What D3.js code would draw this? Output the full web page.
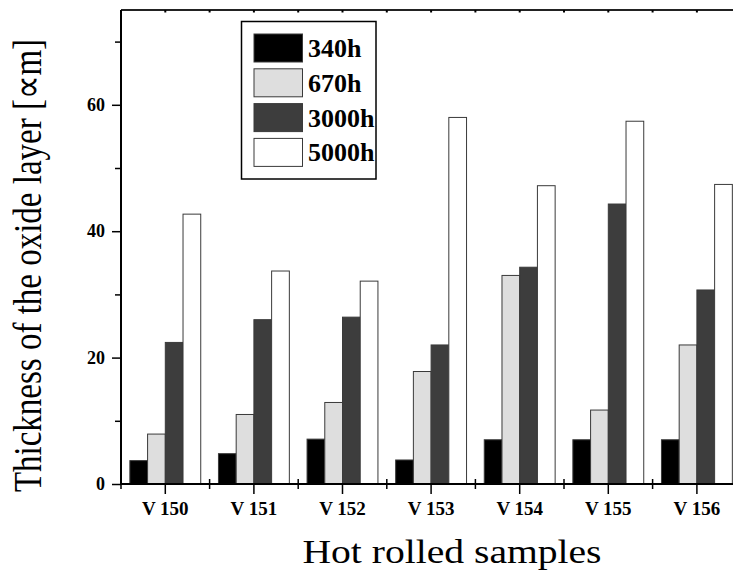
<!DOCTYPE html>
<html>
<head>
<meta charset="utf-8">
<script src="https://cdn.jsdelivr.net/npm/d3@7"></script>
<style>
  html, body { margin: 0; padding: 0; background: #fff; }
  svg { display: block; }
  text { font-family: "Liberation Serif", "Times New Roman", serif; fill: #000; }
</style>
</head>
<body>
<svg id="chart" width="733" height="570"></svg>
<script>
// Oxide layer thickness per hot rolled sample after each exposure time
const samples = ["V 150", "V 151", "V 152", "V 153", "V 154", "V 155", "V 156"];
const seriesNames = ["340h", "670h", "3000h", "5000h"];
const h340  = [3.7, 4.8, 7.1, 3.8, 7.0, 7.0, 7.0];
const h670  = [7.9, 11.0, 12.9, 17.8, 33.0, 11.7, 22.0];
const h3000 = [22.4, 26.0, 26.4, 22.0, 34.3, 44.3, 30.7];
const h5000 = [42.7, 33.7, 32.1, 58.0, 47.2, 57.4, 47.4];
const yMajorTicks = [0, 20, 40, 60];
const yMinorTicks = [10, 30, 50, 70];

const seriesValues = [h340, h670, h3000, h5000];
const fills = ["#000000", "#dedede", "#3d3d3d", "#ffffff"];

const svg = d3.select("#chart");
const plotLeft = 121, plotTop = 10, plotBottom = 484;
const step = 88.6;
const plotRight = plotLeft + step * samples.length;

const x = d3.scaleBand().domain(samples).range([plotLeft, plotRight]).padding(0);
const xi = d3.scaleBand().domain(seriesNames)
  .range([x.bandwidth() * 0.1, x.bandwidth() * 0.9]).padding(0);
const y = d3.scaleLinear().domain([0, 75]).range([plotBottom, plotTop]);

// bars
const rows = samples.map((s, i) => ({
  sample: s,
  values: seriesNames.map((n, k) => ({ name: n, k, v: seriesValues[k][i] }))
}));

const groups = svg.append("g").selectAll("g").data(rows).join("g")
  .attr("transform", d => `translate(${x(d.sample)},0)`);
groups.selectAll("rect").data(d => d.values).join("rect")
  .attr("x", d => xi(d.name))
  .attr("y", d => y(d.v))
  .attr("width", xi.bandwidth())
  .attr("height", d => y(0) - y(d.v))
  .attr("fill", d => fills[d.k])
  .attr("stroke", "#3a3a3a")
  .attr("stroke-width", 1);

// left axis: labelled major ticks and short minor ticks
const yAxis = svg.append("g").attr("transform", `translate(${plotLeft},0)`)
  .call(d3.axisLeft(y).tickValues(yMajorTicks).tickSize(9).tickPadding(7).tickFormat(d3.format("d")));
yAxis.select(".domain").remove();
yAxis.selectAll("line").attr("stroke", "#000").attr("stroke-width", 1.5);
yAxis.selectAll("text").attr("font-size", 18).attr("font-weight", "bold");

const yMinor = svg.append("g").attr("transform", `translate(${plotLeft},0)`)
  .call(d3.axisLeft(y).tickValues(yMinorTicks).tickSize(6).tickFormat(""));
yMinor.select(".domain").remove();
yMinor.selectAll("line").attr("stroke", "#000").attr("stroke-width", 1.5);

svg.append("line").attr("x1", plotLeft).attr("x2", plotLeft).attr("y1", plotTop).attr("y2", plotBottom)
  .attr("stroke", "#000").attr("stroke-width", 2);

// bottom axis: category ticks below, boundary ticks crossing the line
const xAxis = svg.append("g").attr("transform", `translate(0,${plotBottom})`)
  .call(d3.axisBottom(x).tickSize(10).tickPadding(8));
xAxis.select(".domain").remove();
xAxis.selectAll("line").attr("stroke", "#000").attr("stroke-width", 1.5);
xAxis.selectAll("text").attr("font-size", 19).attr("font-weight", "bold");

const bounds = samples.map(s => x(s));
svg.append("g").selectAll("line").data(bounds).join("line")
  .attr("x1", d => d).attr("x2", d => d)
  .attr("y1", plotBottom - 5).attr("y2", plotBottom + 5)
  .attr("stroke", "#000").attr("stroke-width", 1.5);

svg.append("line").attr("x1", plotLeft).attr("x2", 733).attr("y1", plotBottom).attr("y2", plotBottom)
  .attr("stroke", "#000").attr("stroke-width", 2);

// top frame line with small ticks
svg.append("line").attr("x1", plotLeft).attr("x2", 733).attr("y1", plotTop).attr("y2", plotTop)
  .attr("stroke", "#222").attr("stroke-width", 2);
const topTicks = bounds.concat(samples.map(s => x(s) + x.bandwidth() / 2));
svg.append("g").selectAll("line").data(topTicks).join("line")
  .attr("x1", d => d).attr("x2", d => d)
  .attr("y1", plotTop).attr("y2", plotTop + 2.5)
  .attr("stroke", "#000").attr("stroke-width", 2);

// legend
const lg = svg.append("g");
lg.append("rect").attr("x", 241.5).attr("y", 21.5).attr("width", 134.5).attr("height", 157.5)
  .attr("fill", "#fff").attr("stroke", "#000").attr("stroke-width", 1.5);
const items = lg.selectAll("g.item").data(seriesNames).join("g").attr("class", "item")
  .attr("transform", (d, i) => `translate(254,${34 + i * 34.8})`);
items.append("rect").attr("width", 48.5).attr("height", 28)
  .attr("fill", (d, i) => fills[i]).attr("stroke", "#3a3a3a").attr("stroke-width", 1);
items.append("text").attr("x", 54).attr("y", 23)
  .attr("font-size", 26).attr("font-weight", "bold").text(d => d);

// axis titles
svg.append("text")
  .attr("transform", "translate(452,563) scale(1.2,1)")
  .attr("text-anchor", "middle").attr("font-size", 33)
  .text("Hot rolled samples");

svg.append("text")
  .attr("transform", "translate(41,265.5) scale(1.2,1) rotate(-90)")
  .attr("text-anchor", "middle").attr("font-size", 33)
  .text("Thickness of the oxide layer [\u221Dm]");
</script>
</body>
</html>
